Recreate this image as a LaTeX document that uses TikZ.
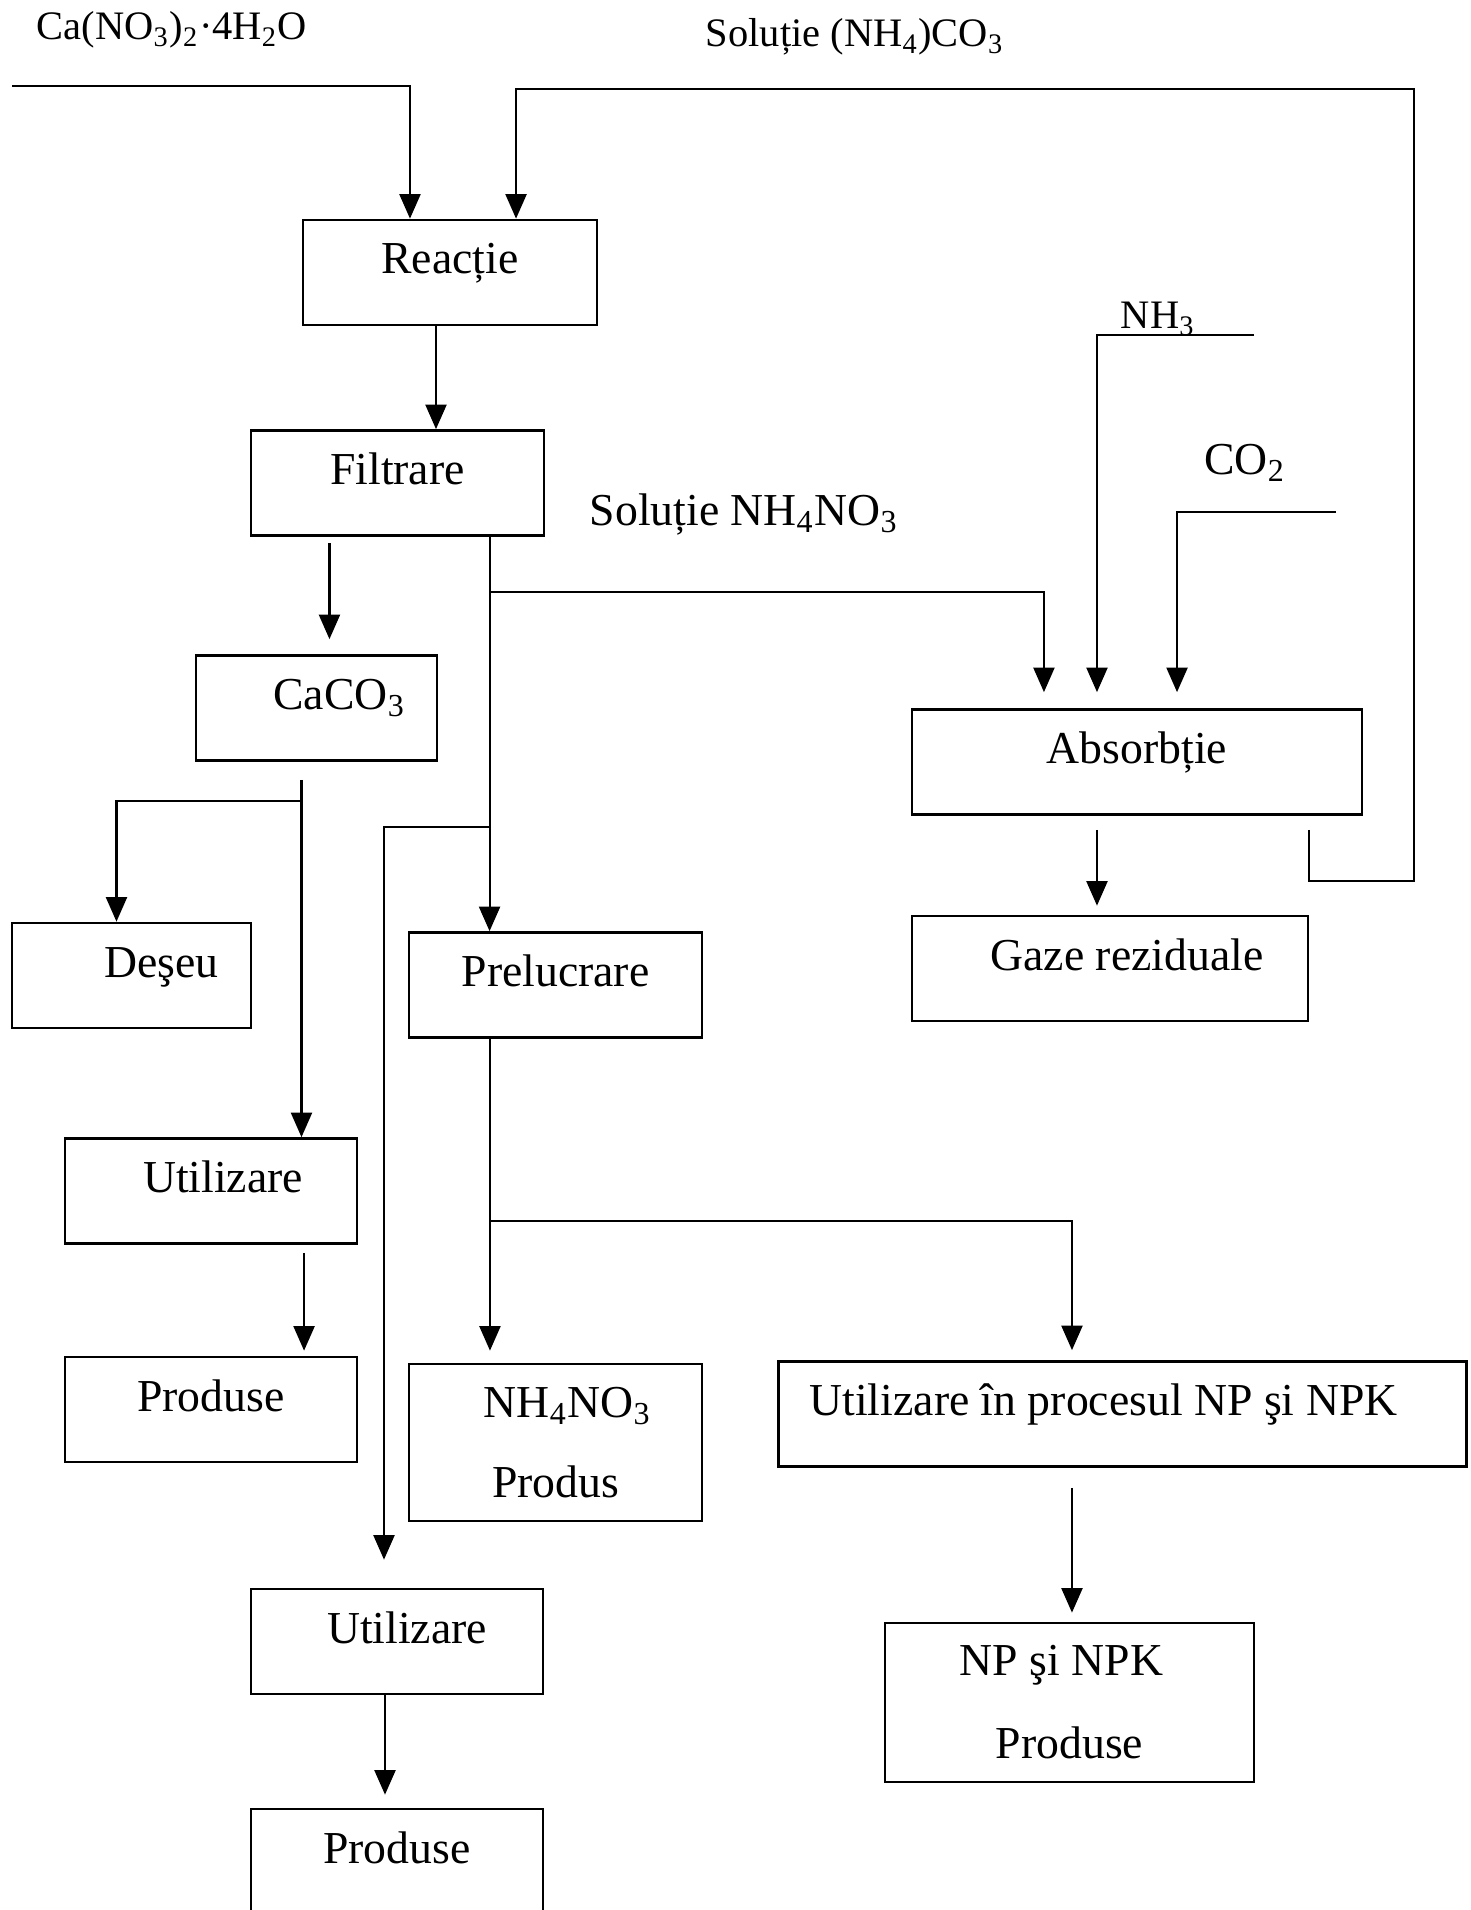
\documentclass[tikz,border=0pt]{standalone}
\usepackage{fontspec}
\setmainfont{Liberation Serif}
\usetikzlibrary{arrows.meta}

\begin{document}
\begin{tikzpicture}[x=0.01cm, y=-0.01cm,
	flow/.style={line width=0.6pt, -{Triangle[length=7pt,width=6pt]}},
	box/.style={draw, line width=0.75pt, inner sep=0pt, text height=0.54cm, text depth=0.51cm, font=\fontsize{13}{15.6}\selectfont},
	tallbox/.style={draw, line width=0.75pt, inner sep=0pt, align=center, font=\fontsize{13}{15.6}\selectfont},
	feed/.style={font=\fontsize{11.5}{14}\selectfont},
	lbl/.style={font=\fontsize{13}{15.6}\selectfont}]
			%%%%% START %%%%%
			\useasboundingbox (0,0) rectangle (1470,1910);
			
			% feeds
			\node[feed] (cano3) at (172,30) {Ca(NO\textsubscript{3})\textsubscript{2}·4H\textsubscript{2}O};
			\node[feed] (solco3) at (855,37) {Soluție (NH\textsubscript{4})CO\textsubscript{3}};
			\node[feed] (nh3) at (1158,319) {NH\textsubscript{3}};
			\node[lbl] (co2) at (1245,463) {CO\textsubscript{2}};
			\node[lbl] (solno3) at (744,515) {Soluție NH\textsubscript{4}NO\textsubscript{3}};
			\coordinate (cain) at (12,86);
			\coordinate (nh3in) at (1254,335);
			\coordinate (co2in) at (1336,512);
			
			% process units
			\node[box, minimum width=2.94cm] (reactie) at (450,272.5) {Reacție};
			\node[box, minimum width=2.93cm] (filtrare) at (397.5,483) {Filtrare};
			\node[box, minimum width=2.41cm] (caco3) at (316.5,708) {\hspace*{0.46cm}CaCO\textsubscript{3}};
			\node[box, minimum width=2.39cm] (deseu) at (131.5,975.5) {\hspace*{0.6cm}Deşeu};
			\node[box, minimum width=2.93cm] (prelucrare) at (555.5,985) {Prelucrare};
			\node[box, minimum width=4.50cm] (absorbtie) at (1137,762) {Absorbție};
			\node[box, minimum width=3.96cm] (gaze) at (1110,968.5) {\hspace*{0.34cm}Gaze reziduale};
			\node[box, minimum width=2.92cm] (util1) at (211,1191) {\hspace*{0.24cm}Utilizare};
			\node[box, minimum width=2.92cm] (prod1) at (211,1409.5) {Produse};
			\node[tallbox, minimum width=2.93cm, minimum height=1.57cm] (nh4) at (555.5,1442.5) {\hspace*{0.24cm}NH\textsubscript{4}NO\textsubscript{3}\\[7pt]Produs};
			\node[box, minimum width=6.87cm] (utilnp) at (1122.5,1414) {Utilizare în procesul NP şi NPK\hspace*{0.38cm}};
			\node[tallbox, minimum width=3.69cm, minimum height=1.59cm] (npk) at (1069.5,1702.5) {NP şi NPK\hspace*{0.16cm}\\[8pt]Produse};
			\node[box, minimum width=2.92cm] (util2) at (397,1641.5) {\hspace*{0.2cm}Utilizare};
			\node[box, minimum width=2.92cm] (prod2) at (397,1861.5) {Produse};
			
			% reaction and filtration
			\draw[flow] (cain) -| ([xshift=-0.40cm]reactie.north);
			\draw[flow] ([xshift=-0.14cm]reactie.south) -- ([xshift=-0.14cm]reactie.south |- filtrare.north);
			\draw[flow] ([xshift=-0.68cm,yshift=-0.06cm]filtrare.south) -- ([xshift=-0.68cm,yshift=0.15cm]filtrare.south |- caco3.north);
			\draw[flow] ([xshift=0.92cm]filtrare.south) -- ([xshift=0.92cm]filtrare.south |- prelucrare.north);
			\draw[flow] ([xshift=0.92cm]filtrare.south) ++(0,55) -| ([xshift=-0.93cm,yshift=0.16cm]absorbtie.north);
			\draw[flow] ([xshift=0.92cm]filtrare.south) ++(0,290) -| ([xshift=-0.13cm,yshift=0.28cm]util2.north);
			
			% absorption and recycle of the carbonate solution
			\draw[flow] (nh3in) -| ([xshift=-0.40cm,yshift=0.16cm]absorbtie.north);
			\draw[flow] (co2in) -| ([xshift=0.40cm,yshift=0.16cm]absorbtie.north);
			\draw[flow] ([xshift=-0.40cm,yshift=-0.14cm]absorbtie.south) -- ([xshift=-0.40cm,yshift=0.09cm]absorbtie.south |- gaze.north);
			\draw[flow] ([xshift=1.72cm,yshift=-0.14cm]absorbtie.south) -- ++(0,51) -| (1414,89) -| ([xshift=0.66cm]reactie.north);
			
			% CaCO3 branch
			\draw[flow] ([xshift=-0.15cm,yshift=-0.18cm]caco3.south) -- ([xshift=-0.15cm]caco3.south |- util1.north);
			\draw[flow] ([xshift=-0.15cm,yshift=-0.39cm]caco3.south) -| ([xshift=-0.15cm]deseu.north);
			\draw[flow] ([xshift=0.93cm,yshift=-0.08cm]util1.south) -- ([xshift=0.93cm,yshift=0.05cm]util1.south |- prod1.north);
			
			% NH4NO3 branch
			\draw[flow] ([xshift=-0.655cm]prelucrare.south) -- ([xshift=-0.655cm,yshift=0.12cm]prelucrare.south |- nh4.north);
			\draw[flow] ([xshift=-0.655cm]prelucrare.south) ++(0,182) -| ([xshift=-0.505cm,yshift=0.10cm]utilnp.north);
			\draw[flow] ([xshift=-0.505cm,yshift=-0.20cm]utilnp.south) -- ([xshift=-0.505cm,yshift=0.09cm]utilnp.south |- npk.north);
			\draw[flow] ([xshift=-0.12cm]util2.south) -- ([xshift=-0.12cm,yshift=0.13cm]util2.south |- prod2.north);
			%%%%% END %%%%%
\end{tikzpicture}
\end{document}
